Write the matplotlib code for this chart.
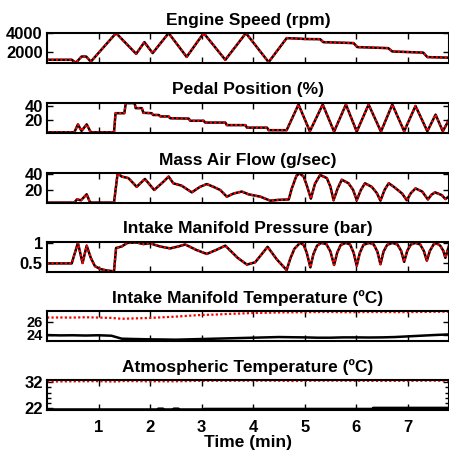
import numpy as np
import matplotlib
matplotlib.use('Agg')
import matplotlib.pyplot as plt

plt.rcParams['font.family'] = ['Liberation Sans', 'DejaVu Sans']
plt.rcParams['font.weight'] = 'bold'

# --- DATA ---
speed_t = [0, 0.48, 0.56, 0.67, 0.76, 0.85, 1.34, 1.73, 1.89, 2.05, 2.36, 2.71,
           3.04, 3.46, 3.86, 4.30, 4.65, 4.88, 5.0, 5.30, 5.36, 5.95, 6.02, 6.62,
           6.70, 7.30, 7.38, 7.80]
speed_rpm = [1200, 1200, 880, 1540, 1540, 1000, 4000, 1820, 3050, 1900, 4000, 1500,
             4000, 1190, 4000, 950, 3470, 3420, 3380, 3360, 3050, 2950, 2530, 2420,
             2070, 1950, 1480, 1420]

pedal_t = [0, 0.53, 0.60, 0.67, 0.77, 0.85, 1.30, 1.33, 1.50, 1.53, 1.70, 1.72,
           1.84, 1.87, 2.03, 2.06, 2.17, 2.20, 2.36, 2.39, 2.75, 2.78, 3.04, 3.07,
           3.46, 3.49, 3.85, 3.88, 4.27, 4.30, 4.65, 4.88, 5.10, 5.35, 5.57, 5.80,
           6.01, 6.24, 6.48, 6.70, 6.93, 7.15, 7.38, 7.54, 7.68, 7.80]
pedal_pct = [3.5, 3.5, 14.5, 5.5, 14.5, 3.5, 3.5, 30, 30, 44, 44, 37,
             37, 30.5, 30, 27.5, 27.5, 25.5, 25.5, 23, 22.5, 19.5, 19.5, 17,
             17, 13.5, 13.5, 10, 10, 6.5, 6.5, 42, 5, 42, 4.5, 42,
             4.5, 42, 4.5, 42, 5, 40, 5, 28, 5, 21]

maf_t = [0, 0.53, 0.58, 0.66, 0.77, 0.83, 0.86, 1.30, 1.37, 1.45, 1.58, 1.74,
         1.90, 2.08, 2.26, 2.36, 2.45, 2.61, 2.81, 2.97, 3.10, 3.23, 3.36, 3.49,
         3.62, 3.78, 3.91, 4.14, 4.33, 4.50, 4.69, 4.75, 4.84, 4.90, 4.98, 5.05,
         5.12, 5.20, 5.30, 5.43, 5.50, 5.56, 5.64, 5.72, 5.85, 5.94, 6.01, 6.09,
         6.17, 6.30, 6.40, 6.47, 6.55, 6.63, 6.73, 6.89, 6.98, 7.06, 7.15, 7.28,
         7.39, 7.46, 7.53, 7.66, 7.73, 7.80]
maf_gs = [4, 4, 8, 7, 14.5, 5, 4, 4, 41, 37, 35, 24,
          34, 20, 30.5, 37, 28.5, 25.5, 17, 24, 27.5, 24, 20, 11.5,
          15.5, 18, 14.5, 11.5, 6.5, 7.5, 8, 22, 38, 41, 37, 24,
          9, 28, 39, 35, 24, 7, 22, 33, 28.5, 20, 7, 20,
          28.5, 24, 16, 6.5, 20, 28.5, 24, 15.5, 7, 16, 22, 18,
          8, 14, 17, 13.5, 8.5, 12]

map_t = [0, 0.48, 0.53, 0.60, 0.69, 0.77, 0.85, 0.93, 1.03, 1.16, 1.30, 1.34,
         1.45, 1.56, 1.74, 1.87, 2.00, 2.19, 2.39, 2.55, 2.68, 2.90, 3.10, 3.28,
         3.46, 3.70, 3.88, 4.04, 4.28, 4.46, 4.65, 4.72, 4.80, 4.91, 4.98, 5.04,
         5.11, 5.17, 5.24, 5.32, 5.42, 5.50, 5.57, 5.63, 5.70, 5.80, 5.88, 5.95,
         6.01, 6.07, 6.14, 6.25, 6.34, 6.41, 6.47, 6.53, 6.60, 6.70, 6.80, 6.87,
         6.93, 6.99, 7.06, 7.15, 7.24, 7.31, 7.37, 7.43, 7.50, 7.56, 7.63, 7.69,
         7.73, 7.77, 7.80]
map_bar = [0.48, 0.48, 0.70, 1.0, 0.49, 0.93, 0.62, 0.41, 0.34, 0.30, 0.28, 0.87,
           0.91, 1.0, 1.01, 0.97, 0.99, 0.91, 0.86, 0.91, 0.96, 0.82, 0.72, 0.82,
           0.93, 0.62, 0.45, 0.51, 0.90, 0.58, 0.31, 0.60, 0.85, 1.0, 0.95, 0.75,
           0.38, 0.72, 0.93, 1.0, 0.97, 0.78, 0.44, 0.75, 0.95, 1.0, 0.96, 0.75,
           0.42, 0.75, 0.95, 1.0, 0.96, 0.78, 0.46, 0.78, 0.95, 1.0, 0.96, 0.80,
           0.52, 0.80, 0.96, 1.0, 0.96, 0.80, 0.55, 0.80, 0.96, 0.99, 0.93, 0.80,
           0.62, 0.80, 0.93]

imt_t = [0, 0.25, 0.5, 0.75, 1.0, 1.25, 1.45, 1.7, 2.0, 2.25, 2.5, 2.75,
         3.0, 3.25, 3.5, 3.75, 4.0, 4.25, 4.5, 4.75, 5.0, 5.25, 5.5, 5.75,
         6.0, 6.25, 6.5, 6.75, 7.0, 7.25, 7.5, 7.8]
imt_meas = [23.95, 23.9, 23.92, 23.88, 23.92, 23.85, 23.4, 23.35, 23.3, 23.28, 23.25, 23.3,
            23.35, 23.4, 23.45, 23.5, 23.55, 23.6, 23.65, 23.62, 23.6, 23.55, 23.55, 23.6,
            23.6, 23.58, 23.6, 23.65, 23.75, 23.85, 23.95, 24.05]
imt_model = [26.6, 26.62, 26.6, 26.65, 26.6, 26.55, 26.42, 26.48, 26.55, 26.65, 26.75, 26.88,
             27.0, 27.05, 27.15, 27.22, 27.3, 27.33, 27.38, 27.4, 27.42, 27.44, 27.45, 27.42,
             27.42, 27.45, 27.45, 27.43, 27.43, 27.46, 27.48, 27.5]

atm_t = [0, 2.15, 2.16, 2.25, 2.26, 2.45, 2.46, 2.55, 2.56, 3.04, 3.05, 6.32,
         6.33, 7.8]
atm_meas = [21.6, 21.6, 21.9, 21.9, 21.6, 21.6, 21.9, 21.9, 21.6, 21.6, 21.8, 21.8,
            22.2, 22.2]
atm_mod_t = [0, 0.5, 1.0, 1.3, 1.5, 2.0, 2.5, 3.0, 3.5, 4.0, 4.5, 4.8, 5.0, 5.5,
             6.0, 6.5, 7.0, 7.5, 7.8]
atm_model = [32.2, 32.3, 32.35, 32.2, 32.4, 32.3, 32.3, 32.5, 32.5, 32.55, 32.5, 32.4,
             32.5, 32.55, 32.5, 32.45, 32.5, 32.55, 32.5]

# --- PLOT ---
fig = plt.figure(figsize=(4.49, 4.50), dpi=100)
W, H = 449.0, 450.0
left, right = 47, 449
tops = [33, 102.7, 173, 241.7, 311, 380]
hgt = 30

panels = [
    ('Engine Speed (rpm)', speed_t, speed_rpm, speed_t, speed_rpm, (860, 4010), [2000, 4000], None),
    ('Pedal Position (%)', pedal_t, pedal_pct, pedal_t, pedal_pct, (3, 44.5), [20, 40], None),
    ('Mass Air Flow (g/sec)', maf_t, maf_gs, maf_t, maf_gs, (3.5, 41.5), [20, 40], None),
    ('Intake Manifold Pressure (bar)', map_t, map_bar, map_t, map_bar, (0.27, 1.03), [0.5, 1], ['0.5', '1']),
    ('Intake Manifold Temperature (ºC)', imt_t, imt_meas, imt_t, imt_model, (23.05, 27.6), [24, 26], None),
    ('Atmospheric Temperature (ºC)', atm_t, atm_meas, atm_mod_t, atm_model, (21.4, 32.8), [22, 32], None),
]

for i, (title, tm, ym, tr, yr, ylim, yt, ytl) in enumerate(panels):
    ax = fig.add_axes([left / W, 1 - (tops[i] + hgt) / H, (right - left) / W, hgt / H])
    ax.plot(tm, ym, 'k-', linewidth=1.8)
    ax.plot(tr, yr, color='red', linestyle=(0, (1, 1)), linewidth=1.6)
    ax.set_xlim(0, 7.8)
    ax.set_ylim(*ylim)
    ax.set_yticks(yt)
    if ytl:
        ax.set_yticklabels(ytl)
    ax.set_xticks(range(1, 8))
    if i == 5:
        ax.set_yticks([24, 26, 28, 30], minor=True)
        ax.set_xlabel('Time (min)', fontsize=12.5, fontweight='bold', labelpad=0)
    else:
        ax.set_xticklabels([])
    ax.set_title(title, fontsize=12.5, fontweight='bold', pad=6)
    ax.tick_params(direction='in', top=True, right=True, length=4, width=1,
                   labelsize=12, pad=3)
    ax.tick_params(axis='x', pad=7)
    if i == 4:
        # the two labels sit close together in the reference
        ax.tick_params(axis='y', labelsize=10.5)
    ax.tick_params(which='minor', direction='in', length=3, width=1, right=True)
    for s in ax.spines.values():
        s.set_linewidth(1.5)

fig.savefig('out.png', dpi=100)
